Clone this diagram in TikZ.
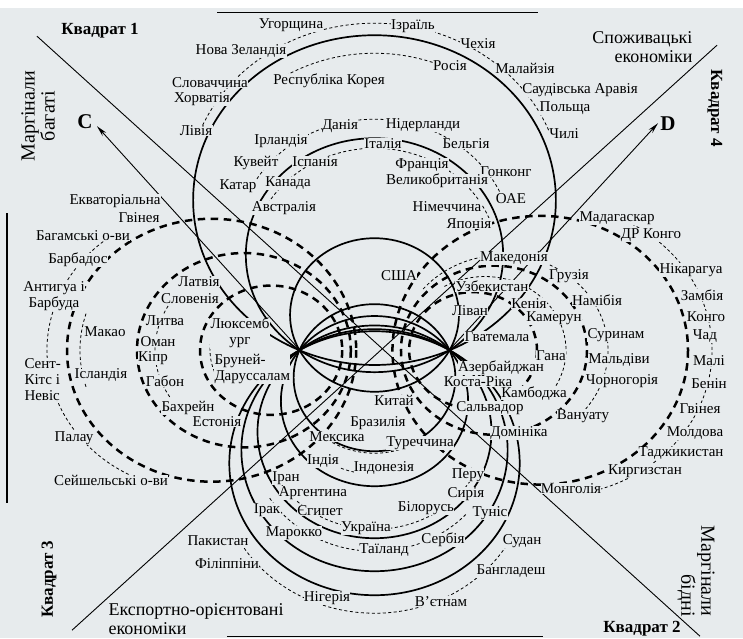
\documentclass[tikz,border=0pt]{standalone}
\usepackage{fontspec}
\setmainfont{Liberation Serif}
\usetikzlibrary{arrows.meta}

\definecolor{paper}{RGB}{231,235,237}

% circle through both poles: #2 = height of its top (+) or depth of its bottom (-)
\newcommand\polecircle[2]{%
  \pgfmathsetmacro\ph{#2/10}%
  \pgfmathsetmacro\pr{(46.51+\ph*\ph)/(2*\ph)*10}%
  \pgfmathsetmacro\pc{-(#2)+\pr}%
  \draw[#1] (0,\pc) circle[radius={abs(\pr)}];}
% part of such a circle, from a point on its left side (y = #3) to one on its right side (y = #4)
\newcommand\polearc[4]{%
  \pgfmathsetmacro\ph{#2/10}%
  \pgfmathsetmacro\pr{(46.51+\ph*\ph)/(2*\ph)*10}%
  \pgfmathsetmacro\pc{-(#2)+\pr}%
  \pgfmathsetmacro\pa{abs(\pr)}%
  \pgfmathsetmacro\ps{180-asin((#3-342-\pc)/\pa)}%
  \pgfmathsetmacro\pe{(#2>0)*360+asin((#4-342-\pc)/\pa)}%
  \draw[#1] (0,\pc) ++(\ps:\pa) arc[start angle=\ps, end angle=\pe, radius=\pa];}
% circle round one pole, cutting the axis outside at x = #2
\newcommand\sidecircle[2]{%
  \pgfmathsetmacro\sl{(#2-374.5)/1.1}%
  \pgfmathsetmacro\sr{4651/\sl}%
  \draw[#1] ({(\sl+\sr)/2},0) circle[radius={abs(\sl-\sr)/2}];}
\newcommand\sidearc[4]{%
  \pgfmathsetmacro\sl{(#2-374.5)/1.1}%
  \pgfmathsetmacro\sr{4651/\sl}%
  \pgfmathsetmacro\sa{abs(\sl-\sr)/2}%
  \draw[#1] ({(\sl+\sr)/2},0) ++(#3:\sa) arc[start angle=#3, end angle=#4, radius=\sa];}

\begin{document}
\begin{tikzpicture}[x=1pt, y=-1pt,
  solidring/.style={line width=1.7pt},
  thickdash/.style={line width=2.5pt, dash pattern=on 7.5pt off 5.5pt},
  thindash/.style={line width=0.8pt, dash pattern=on 3pt off 2.5pt},
  guide/.style={line width=0.9pt},
  country/.style={font=\fontsize{15}{16}\selectfont, fill=paper, inner sep=0.3pt, align=center},
  quadrant/.style={font=\fontsize{17}{19}\selectfont\bfseries},
  caption/.style={font=\fontsize{18}{19}\selectfont},
  margin/.style={font=\fontsize{20}{20}\selectfont},
  pole/.style={font=\fontsize{21}{21}\selectfont\bfseries}]

\fill[paper] (0,0) rectangle (743,630);
\coordinate (P) at (300,342);
\coordinate (Q) at (449,342);
\coordinate (d1a) at (37,28);  \coordinate (d1b) at (700,628);
\coordinate (d2a) at (72,622); \coordinate (d2b) at (717,37);
\coordinate (tipC) at (97,118); \coordinate (tipD) at (658,115);

% page rules
\draw[line width=1.4pt] (217,4) -- (538,4);
\draw[line width=1.4pt] (227,628) -- (543,628);
\draw[line width=1.4pt] (7,205) -- (7,495);

\draw[guide] (d1a) -- (d1b);
\draw[guide] (d2a) -- (d2b);
\draw[guide, -{Stealth[length=11pt, width=5pt]}] (P) -- (tipC);
\draw[guide, -{Stealth[length=11pt, width=5pt]}] (Q) -- (tipD);

\begin{scope}[shift={(374.5,342)}, xscale=1.1]
  \foreach \h in {315,212,112,-245,-221,-188,-136,-101} {\polecircle{solidring}{\h}}
  \polearc{thindash}{327}{122}{125}
  \polearc{thindash}{297}{73}{57}
  \polearc{thindash}{231}{180}{192}
  \polearc{thindash}{202}{200}{215}
  \polearc{thindash}{-263}{540}{530}
  \polearc{thindash}{-201}{490}{505}
  \polearc{thindash}{-179}{468}{468}
  \polearc{thindash}{-124}{450}{458}
  \polearc{thindash}{-103}{425}{432}
  \foreach \e in {67,137,200,688,587,537} {\sidecircle{thickdash}{\e}}
  \sidearc{thindash}{47}{108}{235}
  \sidearc{thindash}{80}{163}{197}
  \sidearc{thindash}{155}{148}{212}
  \sidearc{thindash}{210}{148}{212}
  \sidearc{thindash}{712}{-68}{75}
  \sidearc{thindash}{608}{-140}{48}
  \sidearc{thindash}{566}{-120}{42}
\end{scope}

% countries
\foreach \x/\y/\t [count=\i] in {
  241/43/Нова Зеландія, 210/74/Словаччина, 202/91/Хорватія, 196/122/Лівія,
  291/17/Угорщина, 413/18/Ізраїль, 478/35/Чехія, 525/60/Малайзія,
  580/82/Саудівська Аравія, 565/100/Польща, 564/125/Чилі,
  329/73/Республіка Корея, 450/57/Росія,
  340/118/Данія, 423/117/Нідерланди, 281/133/Ірландія, 383/135/Італія,
  466/135/Бельгія, 256/155/Кувейт, 315/153/Іспанія, 422/157/Франція,
  506/163/Гонконг, 238/178/Катар, 288/175/Канада, 437/173/Великобританія,
  511/190/ОАЕ, 284/200/Австралія, 447/198/Німеччина, 469/215/Японія,
  399/267/США, 394/392/Китай, 378/415/Бразилія,
  115/193/Екваторіальна, 139/209/Гвінея, 83/227/Багамські о-ви,
  78/252/Барбадос, 54/288/{Антигуа і\\Барбуда}, 199/273/Латвія,
  190/290/Словенія, 165/312/Литва, 105/323/Макао, 158/333/Оман,
  153/350/Кіпр, 240/325/{Люксемб\\ург}, 101/367/Ісландія, 165/373/Габон,
  188/400/Бахрейн, 217/413/Естонія, 74/430/Палау, 111/472/Сейшельські о-ви,
  218/532/Пакистан, 227/555/Філіппіни, 337/428/Мексика, 420/435/Туреччина,
  323/453/Індія, 384/460/Індонезія, 286/470/Іран, 468/467/Перу,
  313/485/Аргентина, 466/486/Сирія, 267/502/Ірак, 320/502/Єгипет,
  426/500/Білорусь, 490/505/Туніс, 366/520/Україна, 294/525/Марокко,
  443/532/Сербія, 384/542/Таїланд, 511/563/Бангладеш, 327/590/Нігерія,
  441/593/В’єтнам, 522/533/Судан, 571/480/Монголія, 645/463/Киргизстан,
  681/445/Таджикистан, 695/425/Молдова,
  617/210/Мадагаскар, 651/227/ДР Конго, 514/250/Македонія, 569/268/Грузія,
  691/262/Нікарагуа, 492/278/Узбекистан, 529/295/Кенія, 597/292/Намібія,
  702/287/Замбія, 470/302/Ліван, 554/310/Камерун, 706/308/Конго,
  497/328/Гватемала, 616/327/Суринам, 705/328/Чад, 551/347/Гана,
  619/352/Мальдіви, 709/352/Малі, 501/360/Азербайджан, 622/373/Чорногорія,
  709/375/Бенін, 478/373/Коста-Ріка, 534/385/Камбоджа, 490/400/Сальвадор,
  583/408/Вануату, 700/400/Гвінея, 519/425/Домініка}
  \node[country] (n\i) at (\x,\y) {\t};
\node[country, align=left, anchor=west] (skn) at (24,371) {Сент-\\Кітс і\\Невіс};
\node[country, align=left, anchor=west] (brn) at (214,361) {Бруней-\\Даруссалам};

% quadrants and groups
\node[quadrant] (q1) at (100,22) {Квадрат 1};
\node[quadrant, rotate=-90] (q4) at (715,100) {Квадрат 4};
\node[quadrant, rotate=90] (q3) at (49,571) {Квадрат 3};
\node[quadrant] (q2) at (642,620) {Квадрат 2};
\node[caption, align=right, anchor=east] (cons) at (696,39) {Споживацькі\\економіки};
\node[margin, rotate=90, align=center] (rich) at (38,108) {Маргінали\\багаті};
\node[caption, align=left, anchor=west] (expo) at (105,611) {Експортно-орієнтовані\\економіки};
\node[margin, rotate=-90, align=right] (poor) at (696,563) {Маргінали\\бідні};
\node[pole] (lC) at (85,113) {C};
\node[pole] (lD) at (668,115) {D};
\end{tikzpicture}
\end{document}
